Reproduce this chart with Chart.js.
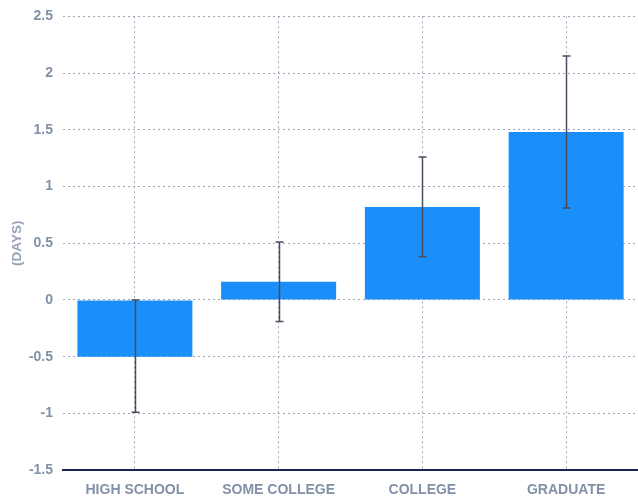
<!DOCTYPE html>
<html>
<head>
<meta charset="utf-8">
<script src="https://cdn.jsdelivr.net/npm/chart.js@4"></script>
<style>
    html, body { margin: 0; padding: 0; background: #fff; }
    #wrap { width: 638px; height: 502px; }
</style>
</head>
<body>
<div id="wrap"><canvas id="barChart" width="638" height="502"></canvas></div>
<script>
// Education level vs. difference in days, with confidence range
var categories = ['HIGH SCHOOL', 'SOME COLLEGE', 'COLLEGE', 'GRADUATE'];
var values = [-0.5, 0.16, 0.82, 1.48];
var errorLow = [-0.99, -0.19, 0.38, 0.81];
var errorHigh = [0.0, 0.51, 1.26, 2.15];

var tickColor = '#8290a8';
var gridColor = '#9ea7bc';
var fontFamily = "'Liberation Sans', Arial, sans-serif";

// Draws the whisker for each bar using the chart's own scales
var errorBars = {
    id: 'errorBars',
    afterDatasetsDraw: function(chart) {
        var ctx = chart.ctx;
        var y = chart.scales.y;
        var meta = chart.getDatasetMeta(0);
        ctx.save();
        ctx.strokeStyle = '#474e5e';
        ctx.lineWidth = 1.5;
        meta.data.forEach(function(bar, i) {
            var x = Math.round(bar.x) + 0.5;
            var top = y.getPixelForValue(errorHigh[i]);
            var bottom = y.getPixelForValue(errorLow[i]);
            ctx.beginPath();
            ctx.moveTo(x, top);
            ctx.lineTo(x, bottom);
            ctx.moveTo(x - 4, top);
            ctx.lineTo(x + 4, top);
            ctx.moveTo(x - 4, bottom);
            ctx.lineTo(x + 4, bottom);
            ctx.stroke();
        });
        ctx.restore();
    }
};

document.addEventListener('DOMContentLoaded', function() {
    var ctx = document.getElementById('barChart');
    new Chart(ctx, {
        type: 'bar',
        data: {
            labels: categories,
            datasets: [{
                data: values,
                backgroundColor: '#1a8ffa',
                barPercentage: 0.8,
                categoryPercentage: 1.0
            }]
        },
        options: {
            responsive: false,
            animation: false,
            layout: { padding: { left: 3, right: 0, top: 0, bottom: -9 } },
            plugins: {
                legend: { display: false },
                tooltip: { enabled: false }
            },
            scales: {
                x: {
                    grid: {
                        color: gridColor,
                        lineWidth: 1,
                        drawTicks: false,
                        offset: false
                    },
                    border: { display: true, color: '#1b2452', width: 2, dash: [2, 3] },
                    ticks: {
                        color: tickColor,
                        padding: 12,
                        font: { family: fontFamily, size: 14, weight: 'bold' }
                    }
                },
                y: {
                    min: -1.5,
                    max: 2.5,
                    afterFit: function(scale) { scale.width = 60; },
                    ticks: {
                        stepSize: 0.5,
                        color: tickColor,
                        padding: 10,
                        font: { family: fontFamily, size: 14, weight: 'bold', lineHeight: 0.9 },
                        callback: function(v) { return String(v); }
                    },
                    grid: {
                        color: gridColor,
                        lineWidth: 1,
                        drawTicks: false
                    },
                    border: { display: false, dash: [2, 3] },
                    title: {
                        display: true,
                        text: '(DAYS)',
                        color: '#97a2b6',
                        padding: { top: 6, bottom: 1 },
                        font: { family: fontFamily, size: 13.5, weight: 'bold' }
                    }
                }
            }
        },
        plugins: [errorBars]
    });
});
</script>
</body>
</html>
